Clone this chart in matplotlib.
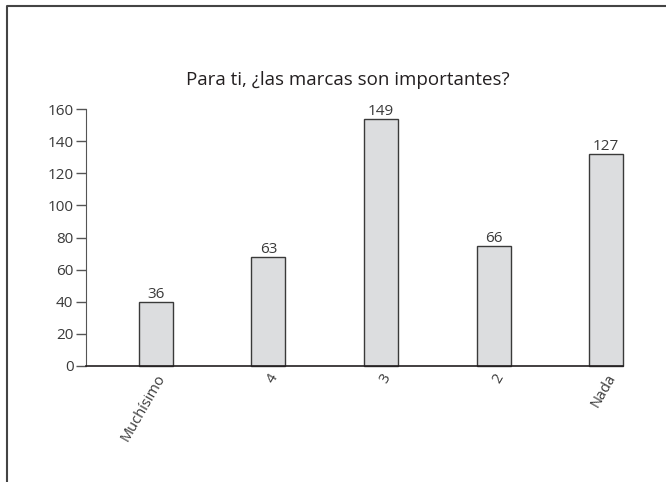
import matplotlib
matplotlib.use("Agg")
import numpy as np
from matplotlib import pyplot as plt
from matplotlib.lines import Line2D

plt.rcParams['font.family'] = ['Open Sans', 'DejaVu Sans']

categories = ['Muchísimo', '4', '3', '2', 'Nada']
counts = [36, 63, 149, 66, 127]            # labels printed above bars
bar_heights = [40, 68, 154, 75, 132]       # heights as drawn in the picture
yticks = [0, 20, 40, 60, 80, 100, 120, 140, 160]

ink = '#231f20'
txt = '#3a3a3a'

fig = plt.figure(figsize=(6.66, 4.82), dpi=100)
ax = fig.add_axes([0.129, 0.2407, 0.807, 0.533])

x = np.arange(len(categories))
bars = ax.bar(x, bar_heights, width=0.3, color='#dcdddf', edgecolor='#3a3a3a', linewidth=1.0)
for b in bars:
    b.set_clip_on(False)

for xi, h, c in zip(x, bar_heights, counts):
    ax.text(xi, h, str(c), ha='center', va='bottom', fontsize=11, color=txt)

ax.set_xlim(-0.62, 4.152)
ax.set_ylim(0, 160)
ax.set_yticks(yticks)
ax.set_xticks(x)
ax.set_xticklabels(categories, rotation=60, ha='right', rotation_mode='anchor',
                   fontsize=10.5, color=txt)
ax.tick_params(axis='x', length=0, pad=4)
ax.tick_params(axis='y', length=7, width=1, color='#555555', labelsize=11,
               labelcolor=txt, pad=2)

for s in ['top', 'right']:
    ax.spines[s].set_visible(False)
ax.spines['left'].set_color('#555555')
ax.spines['bottom'].set_color(ink)
ax.spines['bottom'].set_linewidth(1.2)

fig.text(0.522, 0.834, 'Para ti, ¿las marcas son importantes?', ha='center', va='center',
         fontsize=13.5, color=ink)

# frame lines on top and left edges of the picture
fig.add_artist(Line2D([7 / 666, 7 / 666, 1.0], [0.0, 1 - 5.5 / 482, 1 - 5.5 / 482],
                      transform=fig.transFigure, color='#444444', linewidth=1.5))

fig.savefig('out.png', dpi=100)
